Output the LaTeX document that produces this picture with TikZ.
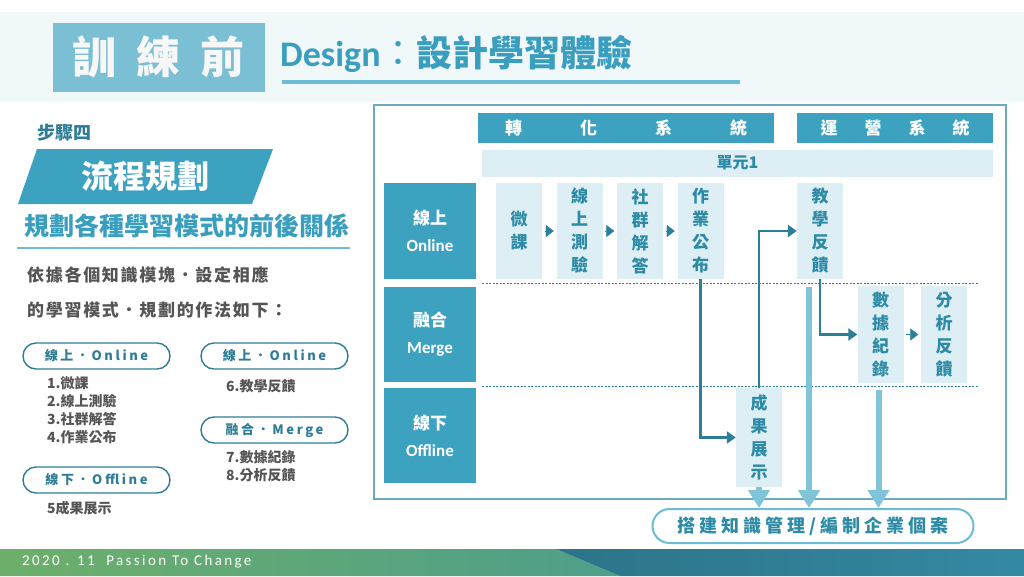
\documentclass[tikz,border=0pt]{standalone}
\usepackage{fontspec}
\setmainfont{Noto Sans CJK TC}
\newfontfamily\latinfont{Carlito}
\newfontfamily\footfont[LetterSpace=16]{Carlito}
\newfontfamily\spacedfont[LetterSpace=20]{Noto Sans CJK TC}
\newfontfamily\widefont[LetterSpace=22]{Noto Sans CJK TC}
\newfontfamily\bodyfont[LetterSpace=10]{Noto Sans CJK TC}
\usepackage{xcolor}
\usetikzlibrary{arrows.meta, positioning, calc}

\definecolor{bandbg}{HTML}{F1F8FA}
\definecolor{titlebox}{HTML}{7BBFD5}
\definecolor{titletxt}{HTML}{3A9EBE}
\definecolor{titleline}{HTML}{6BBCD4}
\definecolor{boxblue}{HTML}{3DA2C0}
\definecolor{boxlight}{HTML}{DDEEF5}
\definecolor{steptxt}{HTML}{2D8BA6}
\definecolor{flowdark}{HTML}{2C7F98}
\definecolor{flowlight}{HTML}{7FC4D8}
\definecolor{frameline}{HTML}{6FA9BC}
\definecolor{pilltxt}{HTML}{2E7C95}
\definecolor{graytxt}{HTML}{555555}
\definecolor{footgreen}{HTML}{6DAF6A}
\definecolor{footmid}{HTML}{4E9E8A}
\definecolor{footdark}{HTML}{2C7488}
\definecolor{footright}{HTML}{3489A2}

\begin{document}
\begin{tikzpicture}[x=1pt, y=-1pt, >=Stealth,
    lane/.style={fill=boxblue, text=white, minimum width=92pt, minimum height=96pt, inner sep=0pt, align=center, font=\fontsize{17}{27}\selectfont\bfseries},
    stepbox/.style={fill=boxlight, text=steptxt, minimum width=46pt, minimum height=96pt, inner sep=0pt, align=center, font=\fontsize{17}{23}\selectfont\bfseries},
    head/.style={fill=boxblue, text=white, minimum height=30pt, inner sep=0pt, font=\fontsize{17}{17}\selectfont\bfseries},
    pill/.style={draw=pilltxt, line width=1.4pt, rounded corners=13pt, minimum width=147pt, minimum height=26pt, inner sep=0pt, text=pilltxt, font=\spacedfont\fontsize{13}{13}\selectfont\bfseries},
    item/.style={anchor=west, align=left, inner sep=0pt, text=graytxt, font=\fontsize{14}{18}\selectfont\bfseries},
    flow/.style={draw=flowdark, line width=2.5pt, -{Triangle[length=9pt,width=12pt]}},
    feed/.style={draw=flowlight, line width=6pt, -{Triangle[length=18pt,width=21pt]}},
    tri/.style={draw=flowdark, line width=0.3pt, -{Triangle[length=8pt,width=12pt]}, shorten <=2.5pt, shorten >=2.5pt}]
    \useasboundingbox (0,0) rectangle (1024,576);

    % title band
    \fill[bandbg] (0,12) rectangle (1024,102);
    \node[fill=titlebox, text=white!94!gray, minimum width=212pt, minimum height=69pt, inner sep=0pt, font=\fontsize{44}{44}\selectfont\bfseries] (pre) at (158.5,57) {訓\hspace{20pt}練\hspace{20pt}前};
    \node[anchor=west, inner sep=0pt, text=titletxt, font=\fontsize{36}{36}\selectfont\bfseries] (design) at (280,54) {{\latinfont Design}{\mdseries：}設計學習體驗};
    \draw[titleline, line width=4pt] (282,82) -- (740,82);

    % left panel
    \node[anchor=west, inner sep=0pt, text=pilltxt, font=\fontsize{18}{18}\selectfont\bfseries] (stepno) at (37,133) {步驟四};
    \fill[boxblue] (18,204) -- (37,149) -- (273,149) -- (252,204) -- cycle;
    \node[text=white, font=\fontsize{32}{32}\selectfont\bfseries] (plan) at (145,176) {流程規劃};
    \node[text=titletxt, font=\fontsize{25}{25}\selectfont\bfseries] (goalline) at (187,226) {規劃各種學習模式的前後關係};
    \draw[titleline, line width=2pt] (17,248) -- (350,248);
    \node[anchor=west, inner sep=0pt, text=graytxt, font=\bodyfont\fontsize{17}{17}\selectfont\bfseries] (desc1) at (27,275) {依據各個知識模塊．設定相應};
    \node[anchor=west, inner sep=0pt, text=graytxt, font=\bodyfont\fontsize{17}{17}\selectfont\bfseries] (desc2) at (27,310) {的學習模式．規劃的作法如下：};

    \node[pill] (p1) at (96.5,356) {線上．Online};
    \node[pill] (p2) at (96.5,480) {線下．Offline};
    \node[pill] (p3) at (274.5,356) {線上．Online};
    \node[pill] (p4) at (274.5,430) {融合．Merge};
    \node[item] (list1) at (47,410) {1.微課\\2.線上測驗\\3.社群解答\\4.作業公布};
    \node[item] (list5) at (47,508) {5成果展示};
    \node[item] (list6) at (226,386) {6.教學反饋};
    \node[item] (list7) at (226,466) {7.數據紀錄\\8.分析反饋};

    % flow chart
    \draw[frameline, line width=1.5pt] (374,105) rectangle (1006,499);
    \node[head, minimum width=296pt] (sys1) at (626,128) {轉\hspace{58pt}化\hspace{58pt}系\hspace{58pt}統};
    \node[head, minimum width=196pt] (sys2) at (895,128) {運\hspace{27pt}營\hspace{27pt}系\hspace{27pt}統};
    \node[fill=boxlight, text=steptxt, minimum width=511pt, minimum height=27pt, inner sep=0pt, font=\fontsize{16}{16}\selectfont\bfseries] (unit) at (737.5,163) {單元1};

    \node[lane] (r1) at (430,231) {線上\\{\latinfont\bfseries Online}};
    \node[lane, minimum height=95pt] (r2) at (430,334.5) {融合\\{\latinfont\bfseries Merge}};
    \node[lane, minimum height=95pt] (r3) at (430,435.5) {線下\\{\latinfont\bfseries Offline}};
    \draw[flowdark, line width=0.8pt, dash pattern=on 2pt off 1.5pt] (482,283) -- (979,283);
    \draw[flowdark, line width=0.8pt, dash pattern=on 2pt off 1.5pt] (482,386) -- (979,386);

    \node[stepbox] (s1) at (519,231) {微\\課};
    \node[stepbox] (s2) at (579.5,231) {線\\上\\測\\驗};
    \node[stepbox] (s3) at (640,231) {社\\群\\解\\答};
    \node[stepbox] (s4) at (700.5,231) {作\\業\\公\\布};
    \node[stepbox] (s6) at (820,231) {教\\學\\反\\饋};
    \node[stepbox, minimum height=97pt] (s7) at (880.5,334.5) {數\\據\\紀\\錄};
    \node[stepbox, minimum height=97pt] (s8) at (944,334.5) {分\\析\\反\\饋};
    \node[stepbox, minimum height=99pt] (s5) at (759,437.5) {成\\果\\展\\示};

    \foreach \a/\b in {s1/s2, s2/s3, s3/s4, s7/s8}
        \draw[tri] (\a) -- (\b);
    \draw[flow] (s4.south) |- (s5.west);
    \draw[flow] (s5.north) |- (s6.west);
    \draw[flow] (s6.south) |- (s7.west);

    % result
    \node[draw=titleline, line width=2pt, fill=white, rounded corners=17pt, minimum width=321pt, minimum height=34pt, inner sep=0pt, text=steptxt, font=\widefont\fontsize{18}{18}\selectfont\bfseries] (goal) at (813,526) {搭建知識管理/編制企業個案};
    \coordinate (mid) at (809,287);
    \draw[feed] (s5.south) -- (s5.south |- goal.north);
    \draw[feed] (mid) -- (mid |- goal.north);
    \draw[feed, shorten <=7pt] ([xshift=-2pt]s7.south) -- ([xshift=-2pt]s7.south |- goal.north);

    % footer
    \shade[left color=footgreen, right color=footmid] (0,549) -- (556,549) -- (620,576) -- (0,576) -- cycle;
    \shade[left color=footdark, right color=footright] (556,549) -- (1024,549) -- (1024,576) -- (620,576) -- cycle;
    \node[anchor=west, inner sep=0pt, text=white, font=\footfont\fontsize{15}{15}\selectfont] (foot) at (22,562) {2020 . 11 \ Passion To Change};
\end{tikzpicture}
\end{document}
